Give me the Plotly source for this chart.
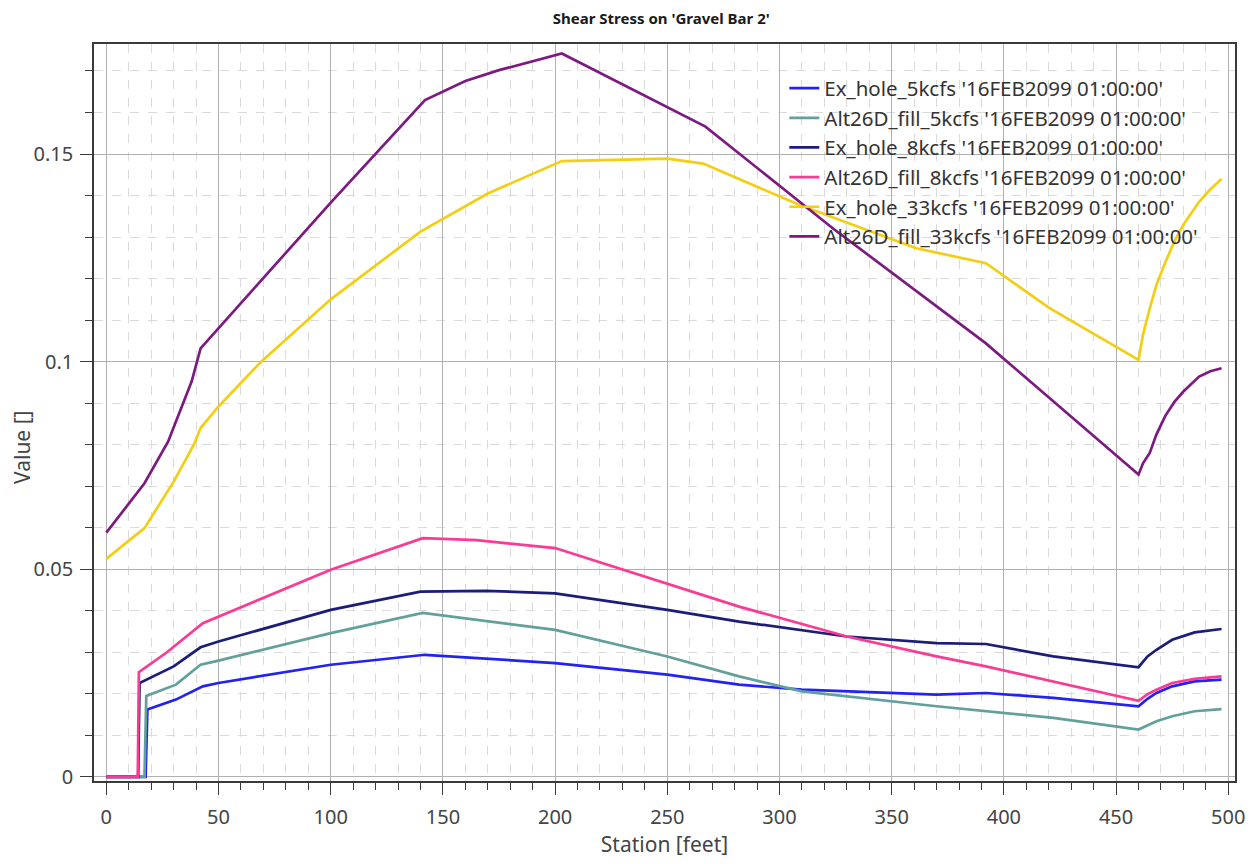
import plotly.graph_objects as go

title = "Shear Stress on 'Gravel Bar 2'"
x_title = "Station [feet]"
y_title = "Value []"
stamp = " '16FEB2099 01:00:00'"

names = ["Ex_hole_5kcfs", "Alt26D_fill_5kcfs", "Ex_hole_8kcfs",
         "Alt26D_fill_8kcfs", "Ex_hole_33kcfs", "Alt26D_fill_33kcfs"]
colors = ["#2323f0", "#62a09c", "#1c1c7a", "#fb3a94", "#f2cf12", "#7d1a80"]

# Ex_hole_5kcfs
x_ex5 = [0, 17.5, 18.3, 31, 43, 50, 100, 142, 200, 250, 282, 310, 370, 392, 422, 460, 464, 468, 475, 485, 497]
y_ex5 = [0, 0, 0.0162, 0.0186, 0.0218, 0.0226, 0.027, 0.0294, 0.0274, 0.0246, 0.0222, 0.021, 0.0198, 0.0202, 0.019, 0.0170, 0.0188, 0.0202, 0.0218, 0.0230, 0.0234]

# Alt26D_fill_5kcfs
x_alt5 = [0, 17, 17.8, 31, 42, 50, 100, 141, 200, 250, 282, 310, 370, 392, 422, 460, 464, 468, 475, 485, 497]
y_alt5 = [0, 0, 0.0195, 0.0222, 0.027, 0.028, 0.0346, 0.0395, 0.0354, 0.029, 0.0242, 0.0206, 0.017, 0.0158, 0.0142, 0.0114, 0.0125, 0.0134, 0.0146, 0.0158, 0.0163]

# Ex_hole_8kcfs
x_ex8 = [0, 14.2, 14.8, 30, 42, 50, 100, 140, 169, 200, 250, 282, 330, 370, 392, 422, 460, 464, 468, 475, 485, 497]
y_ex8 = [0, 0, 0.0226, 0.0266, 0.0312, 0.0326, 0.0402, 0.0446, 0.0448, 0.0442, 0.0402, 0.0374, 0.0338, 0.0322, 0.032, 0.029, 0.0264, 0.0290, 0.0306, 0.033, 0.0348, 0.0356]

# Alt26D_fill_8kcfs
x_alt8 = [0, 14.0, 14.5, 27, 43, 50, 100, 141, 165, 200, 250, 282, 330, 370, 392, 460, 464, 468, 475, 485, 497]
y_alt8 = [0, 0, 0.0252, 0.0300, 0.037, 0.0386, 0.0499, 0.0575, 0.0570, 0.0551, 0.0466, 0.041, 0.0338, 0.029, 0.0266, 0.0183, 0.0199, 0.021, 0.0226, 0.0236, 0.0242]

# Ex_hole_33kcfs
x_ex33 = [0, 17, 30, 39, 42, 50, 69, 100, 140, 170, 203, 250, 266, 309, 335, 361, 392, 420, 460, 462, 465, 468, 472, 476, 480, 487, 492, 497]
y_ex33 = [0.0525, 0.0599, 0.0711, 0.080, 0.084, 0.0892, 0.100, 0.1150, 0.1313, 0.1405, 0.1483, 0.1489, 0.1477, 0.1377, 0.1325, 0.1273, 0.1237, 0.1130, 0.1004, 0.1065, 0.1128, 0.1185, 0.124, 0.1290, 0.133, 0.1385, 0.1415, 0.144]

# Alt26D_fill_33kcfs
x_alt33 = [0, 17, 27.5, 38, 42, 100, 142, 160, 175, 190, 203, 267, 324, 392, 460, 462, 465, 468, 472, 476, 480, 487, 492, 497]
y_alt33 = [0.0588, 0.0707, 0.0807, 0.0952, 0.1032, 0.1383, 0.163, 0.1676, 0.1702, 0.1724, 0.1742, 0.1566, 0.132, 0.1044, 0.0728, 0.0755, 0.078, 0.0825, 0.087, 0.0903, 0.0928, 0.0964, 0.0977, 0.0984]

xs = [x_ex5, x_alt5, x_ex8, x_alt8, x_ex33, x_alt33]
ys = [y_ex5, y_alt5, y_ex8, y_alt8, y_ex33, y_alt33]

FONT = "Noto Sans"

fig = go.Figure()
for n, c, x, y in zip(names, colors, xs, ys):
    fig.add_trace(go.Scatter(x=x, y=y, mode="lines", name=n + stamp,
                             line=dict(color=c, width=2.7)))

axis_common = dict(
    showline=True, linecolor="#3a3a3a", linewidth=1.6, mirror=True,
    ticks="outside", ticklen=12, tickwidth=1.4, tickcolor="#3a3a3a",
    showgrid=True, gridcolor="#b0b0b0", gridwidth=1,
    zeroline=False,
    tickfont=dict(family=FONT, size=20, color="#444444"),
)

fig.update_xaxes(
    range=[-5.5, 503], tick0=0, dtick=50, ticklabelstandoff=5,
    minor=dict(dtick=10, ticks="outside", ticklen=7, tickcolor="#3a3a3a",
               showgrid=True, gridcolor="#dadada", griddash="dash", gridwidth=1),
    title=dict(text=x_title, font=dict(family=FONT, size=21, color="#444444"), standoff=4),
    **axis_common,
)
fig.update_yaxes(
    range=[-0.001, 0.1765], tick0=0, dtick=0.05, ticklabelstandoff=3,
    minor=dict(dtick=0.01, ticks="outside", ticklen=7, tickcolor="#3a3a3a",
               showgrid=True, gridcolor="#dadada", griddash="dash", gridwidth=1),
    **axis_common,
)

# y-axis title sits below the plot's vertical centre in the reference
fig.add_annotation(text=y_title, textangle=-90, xref="paper", yref="paper",
                   x=-0.063, y=0.452, xanchor="center", yanchor="middle",
                   showarrow=False, font=dict(family=FONT, size=21, color="#444444"))

# page body has an 8px margin, so the figure is made 8px smaller and offsets reduced
fig.update_layout(
    width=1249, height=856,
    margin=dict(l=86, r=13, t=36, b=83),
    paper_bgcolor="white", plot_bgcolor="white",
    title=dict(text="<b>" + title + "</b>", x=0.523, xanchor="center", y=1.0, yanchor="top",
               pad=dict(t=5), font=dict(family=FONT, size=15, color="#1a1a1a")),
    legend=dict(x=0.605, y=0.967, xanchor="left", yanchor="top",
                bgcolor="rgba(0,0,0,0)", borderwidth=0,
                font=dict(family=FONT, size=20.5, color="#333333"),
                itemwidth=30),
    showlegend=True,
)

fig.write_html("out.html")
